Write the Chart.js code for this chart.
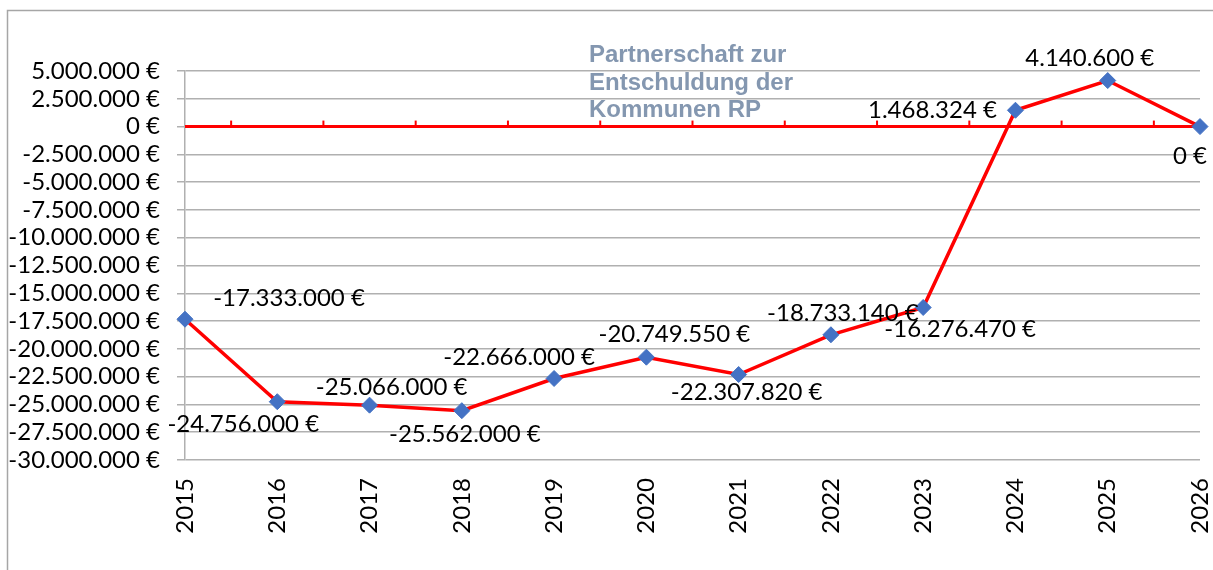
<!DOCTYPE html>
<html>
<head>
<meta charset="utf-8">
<script src="https://cdn.jsdelivr.net/npm/chart.js@4.4.1/dist/chart.umd.min.js"></script>
<style>
html,body{margin:0;padding:0;background:#fff;}
#wrap{width:1213px;height:570px;position:relative;}
</style>
</head>
<body>
<div id="wrap"><canvas id="c" width="1213" height="570"></canvas></div>
<script>
const years = ['2015','2016','2017','2018','2019','2020','2021','2022','2023','2024','2025','2026'];
const balance = [-17333000, -24756000, -25066000, -25562000, -22666000, -20749550, -22307820, -18733140, -16276470, 1468324, 4140600, 0];
const titleLines = ['Partnerschaft zur', 'Entschuldung der', 'Kommunen RP'];
const yMin = -30000000, yMax = 5000000, yStep = 2500000;

// label placement relative to each point (style, not data)
const labelOffsets = [[104,-21],[-34,23],[22,-18],[3,24],[-35,-21],[28,-23],[8,18],[12,-22],[37,22],[-83,0],[-18,-22],[-10,30]];

const FONT = 'Lato, "Open Sans", sans-serif';

function fmt(v){
  const neg = v < 0;
  const s = Math.round(Math.abs(v)).toString().replace(/\B(?=(\d{3})+(?!\d))/g, '.');
  return (neg ? '-' : '') + s + ' €';
}

const deco = {
  id: 'deco',
  beforeDraw(chart){
    const ctx = chart.ctx;
    ctx.save();
    ctx.fillStyle = '#fff';
    ctx.fillRect(0,0,chart.width,chart.height);
    ctx.strokeStyle = '#a6a6a6';
    ctx.lineWidth = 1.5;
    ctx.beginPath();
    ctx.moveTo(7.5, chart.height + 5);
    ctx.lineTo(7.5, 10.5);
    ctx.lineTo(chart.width + 5, 10.5);
    ctx.stroke();
    ctx.restore();
  },
  beforeDatasetsDraw(chart){
    const ctx = chart.ctx;
    const xs = chart.scales.x, ys = chart.scales.y;
    const y0 = ys.getPixelForValue(0);
    ctx.save();
    ctx.strokeStyle = '#ff0000';
    ctx.lineWidth = 3;
    ctx.beginPath();
    ctx.moveTo(chart.chartArea.left, y0);
    ctx.lineTo(chart.chartArea.right, y0);
    ctx.stroke();
    ctx.lineWidth = 2;
    for (let i = 0; i < years.length - 1; i++){
      const xm = (xs.getPixelForValue(i) + xs.getPixelForValue(i+1)) / 2;
      ctx.beginPath();
      ctx.moveTo(xm, y0);
      ctx.lineTo(xm, y0 - 6);
      ctx.stroke();
    }
    ctx.restore();
  },
  afterDatasetsDraw(chart){
    const ctx = chart.ctx;
    const meta = chart.getDatasetMeta(0);
    ctx.save();
    ctx.font = '24px ' + FONT;
    ctx.fillStyle = '#000';
    ctx.textAlign = 'center';
    ctx.textBaseline = 'middle';
    meta.data.forEach((pt, i) => {
      const o = labelOffsets[i];
      ctx.fillText(fmt(balance[i]), pt.x + o[0], pt.y + o[1]);
    });
    // title
    ctx.font = 'bold 24px "Liberation Sans", Arial, sans-serif';
    ctx.fillStyle = '#8497b0';
    ctx.textAlign = 'left';
    ctx.textBaseline = 'alphabetic';
    titleLines.forEach((t, i) => ctx.fillText(t, 589, 62 + i * 27.5));
    ctx.restore();
  }
};

new Chart(document.getElementById('c'), {
  type: 'line',
  data: {
    labels: years,
    datasets: [{
      data: balance,
      borderColor: '#ff0000',
      borderWidth: 3.5,
      tension: 0,
      pointStyle: 'rectRot',
      pointRadius: 8,
      pointHoverRadius: 8,
      pointBackgroundColor: '#4472c4',
      pointBorderColor: '#4472c4',
      pointBorderWidth: 1,
      clip: false
    }]
  },
  options: {
    responsive: false,
    animation: false,
    devicePixelRatio: 1,
    layout: { padding: { top: 71, right: 13, left: 0, bottom: 0 } },
    plugins: { legend: { display: false }, title: { display: false }, tooltip: { enabled: false } },
    scales: {
      x: {
        type: 'category',
        offset: false,
        grid: { display: false, drawTicks: false },
        border: { display: false },
        ticks: {
          autoSkip: false,
          minRotation: 90, maxRotation: 90,
          padding: 18,
          color: '#000',
          font: { family: FONT, size: 24 }
        },
        afterFit(scale){ scale.height = 110; scale.paddingLeft = 0; scale.paddingRight = 0; }
      },
      y: {
        min: yMin, max: yMax,
        grid: { color: '#b0b0b0', lineWidth: 1.5, tickLength: 8, drawTicks: true },
        border: { display: true, color: '#b0b0b0', width: 1.5 },
        ticks: {
          stepSize: yStep,
          autoSkip: false,
          padding: 17,
          color: '#000',
          font: { family: FONT, size: 24 },
          callback: v => fmt(v)
        },
        afterFit(scale){ scale.width = 185; scale.paddingTop = 0; scale.paddingBottom = 0; }
      }
    }
  },
  plugins: [deco]
});
</script>
</body>
</html>
